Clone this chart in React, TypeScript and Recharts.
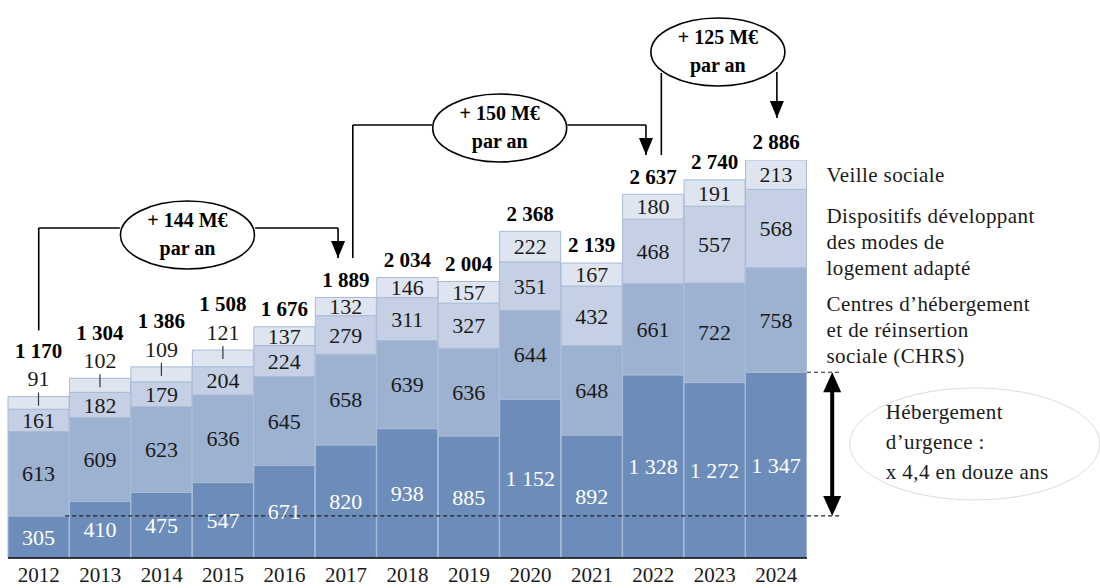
import React from 'react';
import { BarChart, Bar, XAxis, YAxis, LabelList, ReferenceLine, ReferenceDot } from 'recharts';

const years = ['2012', '2013', '2014', '2015', '2016', '2017', '2018', '2019', '2020', '2021', '2022', '2023', '2024'];
const urgence = [305, 410, 475, 547, 671, 820, 938, 885, 1152, 892, 1328, 1272, 1347];
const chrs = [613, 609, 623, 636, 645, 658, 639, 636, 644, 648, 661, 722, 758];
const adapte = [161, 182, 179, 204, 224, 279, 311, 327, 351, 432, 468, 557, 568];
const veille = [91, 102, 109, 121, 137, 132, 146, 157, 222, 167, 180, 191, 213];
const totals = [1170, 1304, 1386, 1508, 1676, 1889, 2034, 2004, 2368, 2139, 2637, 2740, 2886];

const nameVeille = ['Veille sociale'];
const nameAdapte = ['Dispositifs développant', 'des modes de', 'logement adapté'];
const nameChrs = ['Centres d’hébergement', 'et de réinsertion', 'sociale (CHRS)'];
const noteUrgence = ['Hébergement', 'd’urgence :', 'x 4,4 en douze ans'];

// annotation bubbles: [x (bar index units), y (M€), line1, line2]
const bubbles = [
  [2.42, 2342, '+ 144 M€', 'par an'],
  [7.5, 3118, '+ 150 M€', 'par an'],
  [11.05, 3669, '+ 125 M€', 'par an'],
];
// connector polylines, arrow tip at the last point when flagged
const connectors = [
  { pts: [[0, 1650], [0, 2393], [1.32, 2393]], arrow: false },
  { pts: [[3.52, 2393], [4.87, 2393], [4.87, 2175]], arrow: true },
  { pts: [[5.11, 2175], [5.11, 3140], [6.4, 3140]], arrow: false },
  { pts: [[8.6, 3140], [9.88, 3140], [9.88, 2922]], arrow: true },
  { pts: [[10.13, 2922], [10.13, 3517]], arrow: false },
  { pts: [[12.01, 3524], [12.01, 3191]], arrow: true },
];

const data = years.map((year, i) => ({
  idx: i,
  year,
  urgence: urgence[i],
  chrs: chrs[i],
  adapte: adapte[i],
  veille: veille[i],
  total: totals[i],
}));

const FONT = '"Liberation Serif", "Times New Roman", serif';
const INK = '#1a1a1a';
const FS = 22;
const fmt = (n: number) => String(n).replace(/\B(?=(\d{3})+(?!\d))/g, ' ');
const last = years.length - 1;

const centerLabel = (color: string) => (p: any) => {
  const { x, y, width, height, value } = p;
  return (
    <text x={x + width / 2} y={y + height / 2} dy="0.35em" textAnchor="middle" fill={color} fontSize={FS} fontFamily={FONT}>
      {fmt(value)}
    </text>
  );
};

const sideLabel = (lines: string[], firstOffset: number) => (p: any) => {
  const { x, y, width, index } = p;
  if (index !== last) return null;
  return (
    <text x={x + width + 20} y={y + firstOffset} fill={INK} fontSize={21} letterSpacing={0.4} fontFamily={FONT}>
      {lines.map((l, k) => (
        <tspan key={k} x={x + width + 20} dy={k === 0 ? '0.35em' : 26}>{l}</tspan>
      ))}
    </text>
  );
};

const veilleLabel = (p: any) => {
  const { x, y, width, height, value, index } = p;
  const cx = x + width / 2;
  if (index < 4) {
    return (
      <g>
        <line x1={cx} x2={cx} y1={y - 4} y2={y + 9} stroke="#333" strokeWidth={1.2} />
        <text x={cx} y={y - 18} dy="0.35em" textAnchor="middle" fill={INK} fontSize={FS} fontFamily={FONT}>{fmt(value)}</text>
      </g>
    );
  }
  return (
    <text x={cx} y={y + height / 2} dy="0.35em" textAnchor="middle" fill={INK} fontSize={FS} fontFamily={FONT}>{fmt(value)}</text>
  );
};

const totalLabel = (p: any) => {
  const { x, y, width, value, index } = p;
  const off = index < 4 ? 46 : 18;
  return (
    <text x={x + width / 2} y={y - off} dy="0.35em" textAnchor="middle" fill="#000" fontSize={21} fontWeight="bold" fontFamily={FONT}>
      {fmt(value)}
    </text>
  );
};

const YearTick = (p: any) => {
  const { x, y, payload } = p;
  return (
    <text x={x} y={y + 9} dy="0.35em" textAnchor="middle" fill={INK} fontSize={21} fontFamily={FONT}>{payload.value}</text>
  );
};

const arrowDown = (p: any) => (
  <path d={`M${p.cx - 7},${p.cy - 17} L${p.cx + 7},${p.cy - 17} L${p.cx},${p.cy} Z`} fill="#000" />
);
const arrowUp = (p: any) => (
  <path d={`M${p.cx - 9},${p.cy + 20} L${p.cx + 9},${p.cy + 20} L${p.cx},${p.cy} Z`} fill="#000" />
);
const arrowDownBig = (p: any) => (
  <path d={`M${p.cx - 9},${p.cy - 20} L${p.cx + 9},${p.cy - 20} L${p.cx},${p.cy} Z`} fill="#000" />
);

const bubbleShape = (l1: string, l2: string) => (p: any) => (
  <g>
    <ellipse cx={p.cx} cy={p.cy} rx={67} ry={34} fill="#fff" stroke="#000" strokeWidth={1.6} />
    <text x={p.cx} y={p.cy - 15} dy="0.35em" textAnchor="middle" fontSize={20} fontWeight="bold" fontFamily={FONT} fill="#000">{l1}</text>
    <text x={p.cx} y={p.cy + 13} dy="0.35em" textAnchor="middle" fontSize={20} fontWeight="bold" fontFamily={FONT} fill="#000">{l2}</text>
  </g>
);

const noteShape = (p: any) => (
  <g>
    <ellipse cx={p.cx} cy={p.cy} rx={125} ry={56} fill="#ffffff" stroke="#d2d2d2" strokeWidth={0.8} />
    <text x={p.cx - 89} y={p.cy - 32} fill={INK} fontSize={21} letterSpacing={0.4} fontFamily={FONT}>
      {noteUrgence.map((l, k) => (
        <tspan key={k} x={p.cx - 89} dy={k === 0 ? '0.35em' : 30}>{l}</tspan>
      ))}
    </text>
  </g>
);

export default function App() {
  return (
    <div style={{ position: 'absolute', left: 0, top: 0, width: 1100, height: 588, background: '#fff' }}>
      <BarChart
        width={1100}
        height={588}
        data={data}
        margin={{ top: 160, right: 293, bottom: 0, left: 8 }}
        barCategoryGap={0}
      >
        <XAxis
          xAxisId="cat"
          dataKey="year"
          interval={0}
          tickLine={false}
          axisLine={{ stroke: '#000', strokeWidth: 1.5 }}
          tick={<YearTick />}
          height={30}
        />
        <XAxis xAxisId="n" dataKey="idx" type="number" domain={[-0.5, 12.5]} allowDataOverflow hide />
        <YAxis domain={[0, 2886]} allowDataOverflow hide />

        <Bar xAxisId="cat" dataKey="urgence" stackId="a" fill="#6c8cba" stroke="#a9bbd8" strokeWidth={1} isAnimationActive={false}>
          <LabelList dataKey="urgence" content={centerLabel('#ffffff')} />
        </Bar>
        <Bar xAxisId="cat" dataKey="chrs" stackId="a" fill="#9db1d0" stroke="#a9bbd8" strokeWidth={1} isAnimationActive={false}>
          <LabelList dataKey="chrs" content={centerLabel(INK)} />
          <LabelList dataKey="chrs" content={sideLabel(nameChrs, 36)} />
        </Bar>
        <Bar xAxisId="cat" dataKey="adapte" stackId="a" fill="#c5d0e4" stroke="#a9bbd8" strokeWidth={1} isAnimationActive={false}>
          <LabelList dataKey="adapte" content={centerLabel(INK)} />
          <LabelList dataKey="adapte" content={sideLabel(nameAdapte, 26)} />
        </Bar>
        <Bar xAxisId="cat" dataKey="veille" stackId="a" fill="#dee5f0" stroke="#a9bbd8" strokeWidth={1} isAnimationActive={false}>
          <LabelList dataKey="veille" content={veilleLabel} />
          <LabelList dataKey="total" content={totalLabel} />
          <LabelList dataKey="veille" content={sideLabel(nameVeille, 15)} />
        </Bar>

        <ReferenceLine xAxisId="n" ifOverflow="visible" stroke="#222" strokeWidth={1.2} strokeDasharray="4 3"
          segment={[{ x: 0.43, y: urgence[0] }, { x: 13.04, y: urgence[0] }]} />
        <ReferenceLine xAxisId="n" ifOverflow="visible" stroke="#222" strokeWidth={1.2} strokeDasharray="4 3"
          segment={[{ x: 12.5, y: urgence[last] }, { x: 13.04, y: urgence[last] }]} />
        <ReferenceLine xAxisId="n" ifOverflow="visible" stroke="#000" strokeWidth={4}
          segment={[{ x: 12.91, y: urgence[last] - 100 }, { x: 12.91, y: urgence[0] + 100 }]} />
        <ReferenceDot xAxisId="n" x={12.91} y={urgence[last]} ifOverflow="visible" shape={arrowUp} />
        <ReferenceDot xAxisId="n" x={12.91} y={urgence[0]} ifOverflow="visible" shape={arrowDownBig} />

        {connectors.flatMap((c, ci) =>
          c.pts.slice(1).map((pt, k) => (
            <ReferenceLine key={`c${ci}-${k}`} xAxisId="n" ifOverflow="visible" stroke="#000" strokeWidth={1.6}
              segment={[{ x: c.pts[k][0], y: c.pts[k][1] }, { x: pt[0], y: pt[1] }]} />
          ))
        )}
        {connectors.filter((c) => c.arrow).map((c, ci) => {
          const tip = c.pts[c.pts.length - 1];
          return <ReferenceDot key={`a${ci}`} xAxisId="n" x={tip[0]} y={tip[1]} ifOverflow="visible" shape={arrowDown} />;
        })}
        {bubbles.map((b, bi) => (
          <ReferenceDot key={`b${bi}`} xAxisId="n" x={b[0] as number} y={b[1] as number} ifOverflow="visible"
            shape={bubbleShape(b[2] as string, b[3] as string)} />
        ))}
        <ReferenceDot xAxisId="n" x={15.23} y={827} ifOverflow="visible" shape={noteShape} />
      </BarChart>
    </div>
  );
}
